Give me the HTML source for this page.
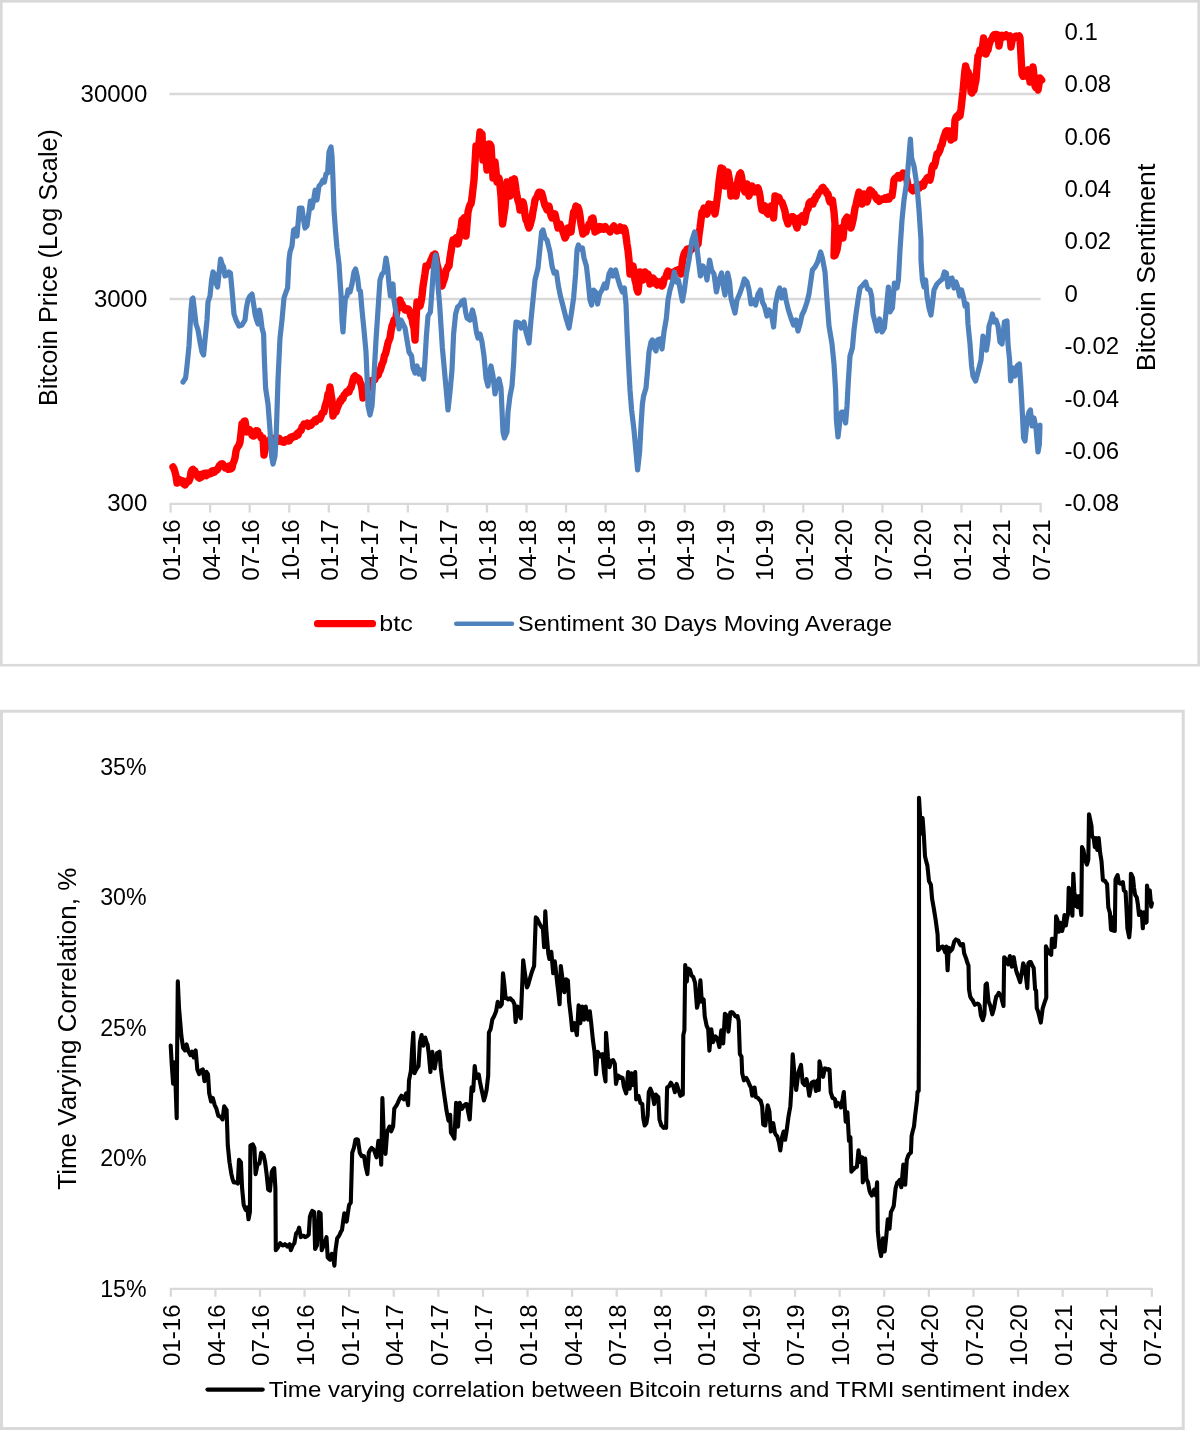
<!DOCTYPE html>
<html lang="en"><head><meta charset="utf-8"><title>Bitcoin price, sentiment and time varying correlation</title>
<style>
html,body{margin:0;padding:0;background:#fff;}
body{width:1200px;height:1430px;overflow:hidden;}
svg{display:block;will-change:transform;}
text{font-family:"Liberation Sans",sans-serif;fill:#000;}
.t{font-size:24px;}
.ax{font-size:26px;}
.lg{font-size:22.5px;}
</style></head><body>
<svg width="1200" height="1430" viewBox="0 0 1200 1430">
<rect x="0" y="0" width="1200" height="1430" fill="#fff"/>
<rect x="1.3" y="1.3" width="1197.4" height="663.9" fill="#fff" stroke="#d9d9d9" stroke-width="2.6"/>
<rect x="1.5" y="711.2" width="1181.7" height="717.3" fill="#fff" stroke="#d9d9d9" stroke-width="3"/>
<g stroke="#d9d9d9" stroke-width="2.3" fill="none">
<path d="M169.5 94H1040.6M169.5 299H1040.6M169.5 503.9H1041.7"/>
<path d="M170.60 503.9V512.5M210.15 503.9V512.5M249.69 503.9V512.5M289.24 503.9V512.5M328.78 503.9V512.5M368.33 503.9V512.5M407.87 503.9V512.5M447.42 503.9V512.5M486.96 503.9V512.5M526.51 503.9V512.5M566.05 503.9V512.5M605.60 503.9V512.5M645.15 503.9V512.5M684.69 503.9V512.5M724.24 503.9V512.5M763.78 503.9V512.5M803.33 503.9V512.5M842.87 503.9V512.5M882.42 503.9V512.5M921.96 503.9V512.5M961.51 503.9V512.5M1001.05 503.9V512.5M1040.60 503.9V512.5"/>
</g>
<text class="t" x="147.3" y="101.9" text-anchor="end">30000</text>
<text class="t" x="147.3" y="307.0" text-anchor="end">3000</text>
<text class="t" x="147.3" y="511.2" text-anchor="end">300</text>
<text class="t" x="1064.5" y="40.0">0.1</text>
<text class="t" x="1064.5" y="92.4">0.08</text>
<text class="t" x="1064.5" y="144.7">0.06</text>
<text class="t" x="1064.5" y="197.1">0.04</text>
<text class="t" x="1064.5" y="249.4">0.02</text>
<text class="t" x="1064.5" y="301.8">0</text>
<text class="t" x="1064.5" y="354.2">-0.02</text>
<text class="t" x="1064.5" y="406.5">-0.04</text>
<text class="t" x="1064.5" y="458.9">-0.06</text>
<text class="t" x="1064.5" y="511.2">-0.08</text>
<text class="t" transform="translate(180.00 519.3) rotate(-90)" text-anchor="end">01-16</text>
<text class="t" transform="translate(219.55 519.3) rotate(-90)" text-anchor="end">04-16</text>
<text class="t" transform="translate(259.09 519.3) rotate(-90)" text-anchor="end">07-16</text>
<text class="t" transform="translate(298.64 519.3) rotate(-90)" text-anchor="end">10-16</text>
<text class="t" transform="translate(338.18 519.3) rotate(-90)" text-anchor="end">01-17</text>
<text class="t" transform="translate(377.73 519.3) rotate(-90)" text-anchor="end">04-17</text>
<text class="t" transform="translate(417.27 519.3) rotate(-90)" text-anchor="end">07-17</text>
<text class="t" transform="translate(456.82 519.3) rotate(-90)" text-anchor="end">10-17</text>
<text class="t" transform="translate(496.36 519.3) rotate(-90)" text-anchor="end">01-18</text>
<text class="t" transform="translate(535.91 519.3) rotate(-90)" text-anchor="end">04-18</text>
<text class="t" transform="translate(575.45 519.3) rotate(-90)" text-anchor="end">07-18</text>
<text class="t" transform="translate(615.00 519.3) rotate(-90)" text-anchor="end">10-18</text>
<text class="t" transform="translate(654.55 519.3) rotate(-90)" text-anchor="end">01-19</text>
<text class="t" transform="translate(694.09 519.3) rotate(-90)" text-anchor="end">04-19</text>
<text class="t" transform="translate(733.64 519.3) rotate(-90)" text-anchor="end">07-19</text>
<text class="t" transform="translate(773.18 519.3) rotate(-90)" text-anchor="end">10-19</text>
<text class="t" transform="translate(812.73 519.3) rotate(-90)" text-anchor="end">01-20</text>
<text class="t" transform="translate(852.27 519.3) rotate(-90)" text-anchor="end">04-20</text>
<text class="t" transform="translate(891.82 519.3) rotate(-90)" text-anchor="end">07-20</text>
<text class="t" transform="translate(931.36 519.3) rotate(-90)" text-anchor="end">10-20</text>
<text class="t" transform="translate(970.91 519.3) rotate(-90)" text-anchor="end">01-21</text>
<text class="t" transform="translate(1010.45 519.3) rotate(-90)" text-anchor="end">04-21</text>
<text class="t" transform="translate(1050.00 519.3) rotate(-90)" text-anchor="end">07-21</text>
<text class="ax" transform="translate(57 267.5) rotate(-90)" text-anchor="middle" textLength="277" lengthAdjust="spacingAndGlyphs">Bitcoin Price (Log Scale)</text>
<text class="ax" transform="translate(1155.4 267.4) rotate(-90)" text-anchor="middle" textLength="207.5" lengthAdjust="spacingAndGlyphs">Bitcoin Sentiment</text>
<path d="M173.0 467.0L174.0 468.8L175.0 472.0L176.0 476.2L177.0 483.0L178.0 482.6L179.0 479.4L180.0 480.0L180.8 481.0L181.7 481.2L182.5 480.8L183.3 483.4L184.2 482.4L185.0 485.0L185.8 483.9L186.6 481.8L187.4 481.0L188.2 481.5L189.0 481.0L190.0 478.6L191.0 472.2L192.0 470.0L193.0 469.3L194.0 471.2L195.0 471.0L196.0 474.7L197.0 475.3L198.0 477.0L198.9 476.3L199.7 478.2L200.6 474.4L201.4 477.2L202.3 474.8L203.1 473.9L204.0 475.0L204.8 473.3L205.6 473.9L206.4 475.6L207.2 473.0L208.0 474.3L208.8 474.3L209.6 473.1L210.4 473.6L211.2 471.5L212.0 473.0L212.8 470.8L213.7 470.9L214.5 472.2L215.3 470.7L216.2 469.8L217.0 470.0L217.8 469.1L218.6 467.4L219.4 465.6L220.2 466.3L221.0 464.0L221.8 465.3L222.7 464.0L223.5 465.8L224.3 466.1L225.2 467.9L226.0 467.0L226.9 468.0L227.7 466.5L228.6 469.3L229.4 466.1L230.3 467.4L231.1 468.8L232.0 468.0L233.0 463.3L234.0 461.3L235.0 458.0L236.0 451.2L237.0 448.0L238.0 446.6L239.0 445.0L240.0 442.0L241.0 433.3L242.0 424.0L243.0 424.4L244.0 421.3L245.0 421.0L246.0 427.2L247.0 432.0L248.0 431.7L249.0 431.0L250.0 430.0L251.0 431.8L252.0 435.3L253.0 436.0L254.0 436.0L255.0 432.6L256.0 431.0L256.8 432.4L257.6 430.9L258.4 434.2L259.2 434.8L260.0 435.0L261.0 437.9L262.0 438.2L263.0 438.0L264.0 455.0L265.0 449.7L266.0 446.0L267.0 444.2L268.0 444.0L269.0 442.0L270.0 439.5L271.0 440.5L272.0 440.0L272.8 438.7L273.6 438.5L274.4 438.3L275.2 441.0L276.0 438.6L276.8 439.0L277.6 439.6L278.4 441.4L279.2 438.4L280.0 440.0L280.8 440.0L281.7 440.5L282.5 442.0L283.3 441.9L284.2 442.2L285.0 441.0L285.9 439.8L286.8 439.9L287.6 439.3L288.5 441.0L289.4 440.9L290.2 437.4L291.1 437.1L292.0 438.0L292.9 436.6L293.7 436.1L294.6 436.7L295.4 436.6L296.3 435.0L297.1 433.5L298.0 435.0L298.8 433.1L299.6 431.3L300.4 430.5L301.2 430.3L302.0 427.0L303.0 426.2L304.0 424.0L304.8 424.2L305.7 424.8L306.5 425.2L307.3 423.0L308.2 426.4L309.0 425.0L309.8 425.6L310.7 425.4L311.5 424.6L312.3 422.6L313.2 422.1L314.0 422.0L314.9 420.1L315.7 421.7L316.6 419.1L317.4 418.6L318.3 418.8L319.1 418.1L320.0 419.0L320.8 417.0L321.6 414.5L322.4 412.9L323.2 412.1L324.0 412.0L325.0 406.5L326.0 403.5L327.0 400.0L328.0 393.9L329.0 392.8L330.0 387.0L331.0 393.9L332.0 400.0L333.0 416.0L334.0 413.3L335.0 412.4L336.0 412.0L337.0 408.8L338.0 406.2L339.0 404.0L340.0 400.6L341.0 401.3L342.0 398.0L343.0 398.5L344.0 395.2L345.0 394.0L345.8 393.5L346.6 391.6L347.4 391.3L348.2 391.8L349.0 392.0L350.0 388.4L351.0 387.9L352.0 384.0L353.0 380.0L354.0 376.9L355.0 376.0L356.0 378.4L357.0 377.4L358.0 378.0L359.0 378.7L360.0 382.2L361.0 384.0L362.0 389.2L363.0 398.0L364.0 396.1L365.0 395.8L366.0 392.0L367.0 390.7L368.0 387.4L369.0 384.0L369.8 382.4L370.7 382.2L371.5 380.7L372.3 382.4L373.2 380.8L374.0 380.0L374.8 379.7L375.7 376.7L376.5 374.9L377.3 375.9L378.2 375.2L379.0 372.0L380.0 370.7L381.0 367.8L382.0 364.0L382.8 362.8L383.6 360.1L384.4 355.8L385.2 354.5L386.0 352.0L386.8 348.7L387.6 344.6L388.4 341.8L389.2 340.0L390.0 338.0L391.0 331.1L392.0 326.0L393.0 323.7L394.0 320.0L395.0 320.7L396.0 318.0L397.0 309.8L398.0 302.0L399.0 302.7L400.0 300.0L401.0 303.9L402.0 304.0L403.0 307.7L404.0 307.5L405.0 310.0L405.8 308.9L406.6 309.0L407.4 308.8L408.2 308.9L409.0 310.0L410.0 313.1L411.0 316.9L412.0 318.0L413.0 324.3L414.0 328.0L415.0 340.0L416.0 320.0L417.0 302.0L418.0 303.3L419.0 305.2L420.0 306.0L421.0 302.1L422.0 296.0L423.0 286.4L424.0 280.0L425.0 273.6L426.0 266.0L427.0 266.9L428.0 265.7L429.0 264.0L430.0 263.0L431.0 259.9L432.0 258.0L433.0 255.4L434.0 256.4L435.0 254.0L436.0 258.0L437.0 264.5L438.0 268.0L439.0 274.8L440.0 278.0L440.0 276.0L441.0 280.6L442.0 286.0L443.0 282.6L444.0 280.0L445.0 276.7L446.0 270.0L447.0 269.5L448.0 266.1L449.0 266.0L450.0 257.6L451.0 252.0L452.0 244.7L453.0 240.0L454.0 240.9L455.0 239.8L456.0 238.0L457.0 239.7L458.0 244.0L459.0 239.2L460.0 232.0L461.0 227.8L462.0 220.0L463.0 219.6L464.0 218.0L465.0 226.4L466.0 236.0L467.0 224.2L468.0 212.0L469.0 207.9L470.0 204.8L471.0 204.0L472.0 197.8L473.0 188.6L474.0 180.0L475.0 163.1L476.0 146.0L477.0 151.6L478.0 154.0L479.0 142.7L480.0 132.0L481.0 134.4L482.0 134.0L483.0 160.0L484.0 156.2L485.0 150.0L486.0 158.9L487.0 170.0L488.0 156.1L489.0 144.0L490.0 144.2L491.0 146.0L492.0 161.0L493.0 178.0L494.0 170.3L495.0 162.0L496.0 171.1L497.0 182.0L498.0 179.7L499.0 178.0L500.0 185.6L501.0 196.0L501.8 211.6L502.6 224.0L503.8 215.4L505.0 208.0L506.0 194.8L507.0 182.0L508.0 187.0L509.0 192.9L510.0 196.0L511.0 187.7L512.0 180.0L513.2 181.1L514.4 179.0L515.3 184.7L516.1 190.5L517.0 196.0L518.0 200.8L519.0 203.5L520.0 210.0L521.0 207.1L522.0 203.5L523.0 202.0L524.0 206.1L525.0 215.1L526.0 220.0L527.0 221.4L528.0 225.2L529.0 228.0L530.0 225.5L531.0 221.5L532.0 218.0L533.0 211.3L534.0 206.1L535.0 200.0L536.0 198.2L537.0 197.1L538.0 194.0L538.9 192.3L539.8 193.7L540.7 192.3L541.6 193.0L542.8 196.7L544.0 202.0L545.0 205.7L546.0 207.4L547.0 210.0L548.0 208.2L549.0 206.0L550.0 211.0L551.0 215.6L552.0 218.0L553.0 216.5L554.0 215.8L555.0 214.0L556.0 218.7L557.0 223.4L558.0 228.0L559.0 226.7L560.0 224.0L561.0 226.5L562.0 229.5L563.0 232.0L564.0 234.9L565.0 238.0L566.0 236.3L567.0 232.1L568.0 228.0L569.0 230.8L570.0 232.3L571.0 232.0L571.9 224.4L572.7 218.9L573.6 212.0L574.8 210.7L576.0 206.0L577.0 208.6L578.0 207.3L579.0 210.0L580.0 215.6L581.0 224.0L582.0 228.8L583.0 234.0L584.0 231.7L585.0 231.7L586.0 232.0L587.0 227.7L588.0 227.3L589.0 224.0L589.8 223.9L590.6 223.1L591.4 219.1L592.2 220.0L593.0 218.0L594.0 225.6L595.0 232.0L596.0 229.3L597.0 230.8L598.0 228.0L598.8 229.6L599.6 226.5L600.4 229.1L601.2 226.8L602.0 227.0L602.8 227.2L603.6 229.3L604.4 228.9L605.2 226.5L606.0 228.0L606.8 228.5L607.6 229.7L608.4 229.8L609.2 230.0L610.0 232.0L611.0 229.6L612.0 229.5L613.0 227.0L613.8 226.0L614.6 228.8L615.4 229.2L616.2 228.4L617.0 231.0L617.8 229.8L618.6 230.3L619.4 229.2L620.2 226.9L621.0 228.0L621.8 230.2L622.6 229.9L623.4 231.0L624.2 228.1L625.0 230.0L626.0 236.1L627.0 244.0L628.0 250.3L629.0 260.0L630.0 274.0L631.0 272.4L632.0 267.8L633.0 266.0L634.0 271.6L635.0 280.0L636.0 283.7L637.0 289.6L638.0 292.0L639.0 283.2L640.0 272.0L641.0 273.7L642.0 276.0L643.0 280.0L644.0 277.6L645.0 272.0L646.0 272.9L647.0 274.1L648.0 274.0L649.0 277.4L650.0 284.0L651.0 280.3L652.0 280.7L653.0 278.0L654.0 279.7L655.0 280.4L656.0 284.0L657.0 285.0L658.0 283.2L659.0 282.0L660.0 284.5L661.0 283.1L662.0 286.0L663.0 284.7L664.0 279.0L665.0 278.0L666.0 277.0L667.0 273.2L668.0 271.0L669.0 272.1L670.0 274.5L671.0 276.0L671.8 276.8L672.6 273.5L673.4 272.2L674.2 272.9L675.0 272.0L675.8 270.8L676.7 270.2L677.5 270.2L678.3 269.6L679.2 270.0L680.0 271.0L681.0 274.0L682.0 265.3L683.0 258.0L684.0 254.3L685.0 252.0L686.0 252.0L687.0 249.2L688.0 249.0L689.0 249.3L690.0 248.4L691.0 250.0L692.0 248.8L693.0 246.8L694.0 248.0L694.8 246.3L695.6 244.6L696.4 246.5L697.2 245.0L698.0 244.0L699.0 234.8L700.0 228.0L701.0 219.9L702.0 212.0L703.0 211.7L704.0 208.0L705.0 208.5L706.0 213.2L707.0 214.0L708.0 208.7L709.0 204.0L710.0 204.3L711.0 205.9L712.0 205.0L713.0 207.6L714.0 211.0L715.0 214.0L716.0 207.7L717.0 200.0L718.0 192.8L719.0 182.0L720.0 174.4L721.0 168.0L722.0 169.8L723.0 169.0L724.0 178.3L725.0 186.0L726.0 181.9L727.0 176.3L728.0 172.0L729.0 177.4L730.0 184.0L731.0 196.0L732.0 191.0L733.0 187.9L734.0 186.0L735.0 189.4L736.0 196.0L737.0 188.9L738.0 180.0L738.9 176.7L739.7 174.1L740.6 173.0L741.6 176.9L742.6 184.0L743.8 189.3L745.0 192.0L746.0 189.4L747.0 184.0L748.0 190.6L749.0 196.0L750.0 191.8L751.0 188.4L752.0 186.0L753.0 187.2L754.0 189.8L755.0 192.0L756.0 189.4L757.0 189.1L758.0 188.0L759.0 191.1L760.0 196.0L761.0 204.8L762.0 210.0L763.0 210.5L764.0 207.5L765.0 206.0L766.0 207.7L767.0 213.1L768.0 214.0L769.0 210.6L770.0 208.1L771.0 206.0L771.9 208.1L772.7 213.6L773.6 218.0L775.0 196.0L776.0 196.2L777.0 196.7L778.0 197.0L779.0 197.5L780.0 200.4L781.0 202.0L782.0 202.1L783.0 205.1L784.0 208.0L785.0 211.4L786.0 218.0L787.0 220.6L788.0 224.0L789.0 219.9L790.0 217.5L791.0 217.0L792.0 216.6L793.0 216.7L794.0 218.0L795.0 221.7L796.0 224.8L797.0 228.0L798.0 224.0L799.0 218.0L800.0 217.9L801.0 217.5L802.0 216.0L803.2 220.4L804.4 222.0L805.3 217.6L806.1 213.3L807.0 210.0L808.0 209.2L809.0 203.3L810.0 202.0L811.0 203.5L812.0 203.9L813.0 204.0L814.0 199.6L815.0 199.9L816.0 196.0L817.0 196.2L818.0 193.8L819.0 192.0L820.0 191.6L821.0 190.5L822.0 188.0L823.0 187.3L824.0 189.4L825.0 190.0L826.0 191.3L827.0 193.9L828.0 194.0L829.0 199.2L830.0 202.0L831.2 202.2L832.4 200.0L833.2 206.3L834.0 212.0L835.0 224.0L834.0 256.0L835.0 255.5L836.0 252.7L837.0 250.0L838.0 243.7L839.0 236.0L840.0 231.0L841.0 228.0L842.0 231.2L843.0 238.0L844.0 227.6L845.0 220.0L846.0 218.8L847.0 217.2L848.0 218.0L849.0 222.6L850.0 224.9L851.0 228.0L852.0 224.5L853.0 220.0L854.0 214.5L855.0 208.0L856.0 204.7L857.0 200.0L858.0 196.0L859.0 192.0L860.0 194.1L861.0 201.1L862.0 204.0L863.0 199.9L864.0 194.0L865.0 196.7L866.0 199.5L867.0 202.0L868.0 198.6L869.0 192.4L870.0 190.0L871.0 192.2L872.0 191.7L873.0 194.0L874.0 193.7L875.0 195.8L876.0 198.0L876.8 199.3L877.6 197.7L878.4 200.1L879.2 201.4L880.0 200.0L881.0 200.0L881.8 199.6L882.6 198.8L883.4 198.7L884.2 199.1L885.0 198.0L885.8 199.2L886.6 198.8L887.4 199.1L888.2 197.2L889.0 199.0L890.0 196.7L891.0 196.1L892.0 196.0L893.0 188.9L894.0 180.0L895.0 178.3L896.0 178.3L897.0 177.0L898.0 175.5L899.0 176.0L900.0 178.0L901.0 175.5L902.0 175.3L903.0 173.0L904.0 174.7L905.0 175.7L906.0 176.0L907.0 180.2L908.0 186.0L908.8 186.9L909.6 187.5L910.4 188.3L911.2 187.8L912.0 190.0L912.8 190.9L913.6 187.7L914.4 190.0L915.2 189.3L916.0 187.0L916.8 185.0L917.6 186.4L918.4 187.6L919.2 188.0L920.0 186.0L920.8 185.4L921.6 184.3L922.4 183.7L923.2 186.1L924.0 184.0L925.0 180.9L926.0 180.3L927.0 178.0L928.0 177.3L929.0 179.4L930.0 180.0L931.0 175.7L932.0 168.0L933.0 165.3L934.0 166.6L935.0 164.0L936.0 159.0L937.0 154.0L938.0 154.1L939.0 152.1L940.0 150.0L941.0 145.6L942.0 144.8L943.0 140.0L944.0 136.9L945.0 134.0L945.8 131.6L946.6 130.9L947.4 132.2L948.2 131.4L949.0 131.0L950.0 134.7L951.0 140.0L952.0 138.0L953.0 138.1L954.0 138.0L955.0 120.0L956.0 117.3L957.0 116.0L958.0 117.3L959.0 114.1L960.0 116.0L961.0 109.0L962.0 100.0L963.0 91.3L964.0 80.0L964.8 71.6L965.6 66.0L966.8 70.6L968.0 72.0L969.0 74.8L970.0 76.0L971.0 92.0L972.0 92.9L973.0 89.9L974.0 90.0L975.0 84.5L976.0 80.0L977.0 67.6L978.0 56.0L979.0 54.9L980.0 50.0L981.0 51.3L982.0 52.0L982.8 44.5L983.6 38.0L984.8 45.7L986.0 54.0L987.0 51.1L988.0 50.0L989.0 45.0L990.0 41.8L991.0 40.0L992.0 39.3L993.0 36.0L993.8 35.0L994.7 37.3L995.5 34.5L996.3 34.4L997.2 35.2L998.0 35.0L999.0 46.0L1000.0 39.8L1001.0 36.0L1001.8 35.4L1002.7 37.4L1003.5 37.0L1004.3 36.5L1005.2 35.7L1006.0 35.0L1006.8 36.8L1007.6 37.1L1008.4 35.8L1009.2 36.6L1010.0 36.0L1011.0 47.0L1012.0 40.8L1013.0 38.0L1014.0 38.2L1015.0 36.5L1016.0 36.0L1016.8 37.4L1017.6 37.3L1018.4 36.4L1019.2 35.9L1020.0 38.0L1021.0 56.0L1022.0 74.0L1023.0 76.3L1024.0 73.9L1025.0 76.0L1026.0 73.9L1027.0 71.4L1028.0 70.0L1029.0 75.2L1030.0 82.0L1031.0 77.9L1032.0 73.8L1033.0 67.0L1034.0 75.6L1035.0 86.0L1036.0 87.9L1037.0 87.9L1038.0 90.0L1039.0 84.2L1040.0 78.0L1041.6 80.0" fill="none" stroke="#ff0000" stroke-width="7.4" stroke-linejoin="round" stroke-linecap="round"/>
<path d="M183.0 382.0L185.6 378.0L187.0 366.0L189.0 346.0L191.0 310.0L192.0 299.0L193.0 298.0L194.4 310.0L196.0 324.0L198.0 330.0L200.0 342.0L202.0 352.0L203.6 355.0L205.0 340.0L207.0 320.0L208.0 302.0L210.0 296.0L211.6 280.0L213.0 272.0L214.4 274.0L216.0 283.0L217.6 287.0L219.0 274.0L220.6 259.0L222.0 264.0L223.6 267.0L225.0 276.0L227.0 275.0L229.0 272.0L230.4 273.0L232.0 290.0L234.0 314.0L236.0 320.0L239.0 326.0L242.0 325.0L245.0 320.0L246.4 308.0L248.0 300.0L250.0 296.0L252.0 294.0L253.6 304.0L255.0 314.0L256.6 320.0L258.0 324.0L259.4 310.0L260.6 316.0L262.0 328.0L263.6 334.0L264.4 360.0L265.6 388.0L268.0 404.0L270.0 430.0L271.6 456.0L273.0 464.0L275.0 456.0L276.4 430.0L278.0 380.0L280.0 338.0L282.0 320.0L284.0 298.0L286.0 292.0L287.6 288.0L289.0 260.0L290.0 252.0L292.0 246.0L293.6 230.0L295.0 229.0L297.0 236.0L298.4 220.0L299.4 208.0L302.0 208.0L303.6 220.0L305.0 228.0L307.0 226.0L309.0 212.0L310.4 201.0L312.0 208.0L313.6 200.0L315.2 190.0L317.0 200.0L319.0 186.0L321.0 184.0L323.0 180.0L324.4 182.0L326.0 174.0L327.6 173.0L329.0 152.0L331.0 147.0L332.0 156.0L333.0 180.0L334.0 210.0L335.6 232.0L337.0 248.0L339.0 264.0L340.0 280.0L341.0 294.0L342.0 320.0L343.0 332.0L344.0 316.0L345.4 298.0L347.0 296.0L348.0 290.0L350.0 292.0L352.0 284.0L354.0 272.0L355.6 269.0L357.6 278.0L359.0 290.0L360.4 291.0L362.0 310.0L364.0 330.0L366.0 352.0L367.0 376.0L368.0 406.0L370.0 415.0L372.0 406.0L374.0 376.0L376.0 340.0L378.0 310.0L380.0 280.0L382.0 274.0L384.0 272.0L386.0 258.0L387.6 268.0L389.0 284.0L390.4 296.0L392.0 286.0L393.0 284.0L394.0 300.0L395.6 310.0L398.0 320.0L399.0 329.0L401.0 320.0L402.0 322.0L405.0 328.0L407.0 340.0L409.0 352.0L411.6 356.0L413.0 368.0L415.0 373.0L417.0 366.0L419.0 374.0L421.0 370.0L423.6 379.0L425.0 360.0L426.4 336.0L428.0 316.0L430.4 312.0L432.0 290.0L433.6 266.0L435.6 255.0L437.0 264.0L438.0 286.0L439.6 304.0L441.0 326.0L442.4 348.0L444.4 370.0L446.4 392.0L448.0 410.0L450.0 392.0L452.0 370.0L453.6 334.0L455.6 314.0L457.6 307.0L460.0 305.0L462.0 301.0L464.0 300.0L465.6 312.0L467.0 318.0L470.0 320.0L472.4 310.0L474.4 318.0L476.4 332.0L478.0 338.0L480.0 334.0L482.0 342.0L484.0 356.0L486.0 378.0L488.0 386.0L489.6 372.0L491.0 366.0L493.0 376.0L495.0 394.0L497.0 384.0L499.0 379.0L501.0 388.0L502.0 410.0L503.0 432.0L504.4 438.0L507.0 432.0L508.0 412.0L510.0 396.0L512.0 386.0L513.6 364.0L515.0 334.0L516.0 322.0L519.0 323.0L521.0 328.0L524.0 322.0L526.0 332.0L529.0 343.0L531.0 320.0L533.0 300.0L535.0 280.0L538.0 268.0L540.0 248.0L541.6 232.0L543.0 230.0L545.0 238.0L547.0 240.0L550.0 252.0L552.0 266.0L554.0 273.0L556.4 272.0L558.4 286.0L560.4 296.0L563.0 306.0L566.0 318.0L569.0 328.0L571.6 312.0L573.6 298.0L575.6 274.0L577.0 250.0L578.4 245.0L580.0 249.0L582.4 248.0L584.0 258.0L586.4 266.0L588.0 280.0L590.0 300.0L591.6 305.0L593.6 290.0L595.6 292.0L597.6 304.0L599.6 294.0L602.0 290.0L604.4 284.0L606.4 288.0L609.0 274.0L611.0 270.0L613.0 276.0L615.6 270.0L617.6 278.0L620.0 286.0L622.4 292.0L624.4 288.0L626.0 304.0L627.0 330.0L628.4 360.0L630.0 390.0L631.6 410.0L634.0 430.0L636.0 452.0L637.6 470.0L639.6 452.0L641.0 426.0L642.4 404.0L643.6 396.0L646.0 388.0L647.6 370.0L649.0 352.0L651.0 342.0L652.4 340.0L654.4 348.0L656.0 351.0L657.6 340.0L660.0 339.0L662.0 349.0L664.0 332.0L666.4 318.0L668.0 300.0L670.0 290.0L672.4 282.0L674.4 272.0L676.4 282.0L678.4 280.0L681.0 294.0L682.4 301.0L684.4 290.0L686.4 274.0L689.0 260.0L692.0 240.0L694.6 232.0L697.0 248.0L698.4 260.0L700.4 276.0L703.0 266.0L705.0 270.0L707.0 280.0L709.6 260.0L711.6 270.0L714.0 274.0L716.4 292.0L719.0 280.0L721.6 273.0L723.6 288.0L725.0 295.0L727.6 273.0L729.6 282.0L731.0 298.0L733.0 306.0L735.0 313.0L737.0 300.0L740.0 293.0L742.4 286.0L744.4 279.0L747.0 282.0L749.0 290.0L751.0 304.0L753.6 300.0L755.6 305.0L758.0 294.0L760.4 290.0L762.4 302.0L764.4 306.0L767.0 316.0L769.0 310.0L771.0 312.0L773.6 327.0L775.6 304.0L778.0 292.0L779.6 288.0L781.6 298.0L784.4 290.0L786.0 300.0L788.4 310.0L791.0 318.0L793.6 325.0L796.0 320.0L798.0 331.0L800.0 324.0L802.0 315.0L804.4 310.0L807.0 302.0L809.0 294.0L811.0 280.0L812.4 270.0L815.0 267.0L817.6 262.0L820.6 252.0L822.4 258.0L825.0 272.0L827.0 300.0L829.0 326.0L832.0 344.0L834.0 364.0L835.6 390.0L836.4 420.0L838.0 437.0L840.0 420.0L841.6 412.0L843.6 412.0L845.6 423.0L847.0 406.0L848.4 380.0L850.0 356.0L852.4 348.0L854.0 330.0L856.0 314.0L858.0 300.0L860.0 288.0L863.0 285.0L865.6 282.0L867.6 289.0L870.0 290.0L871.6 296.0L873.0 314.0L875.0 322.0L877.0 331.0L879.6 319.0L882.0 332.0L884.4 328.0L886.4 308.0L888.4 287.0L890.0 312.0L892.4 308.0L894.4 283.0L897.0 288.0L898.4 280.0L900.0 250.0L902.0 220.0L904.0 200.0L907.0 180.0L909.0 156.0L910.4 139.0L911.6 158.0L914.0 166.0L917.0 186.0L919.0 210.0L921.0 240.0L921.0 260.0L922.4 280.0L924.0 287.0L925.6 280.0L927.0 296.0L929.0 308.0L931.0 315.0L932.4 304.0L934.0 290.0L937.0 284.0L940.0 281.0L942.4 279.0L944.4 272.0L946.4 273.0L948.0 287.0L950.0 279.0L952.0 278.0L954.0 288.0L956.0 282.0L958.0 288.0L959.6 296.0L961.6 290.0L963.6 298.0L965.0 306.0L967.0 304.0L968.0 324.0L970.0 344.0L971.6 366.0L973.0 376.0L975.6 381.0L978.0 372.0L981.0 360.0L983.0 336.0L985.0 348.0L986.4 350.0L988.0 340.0L989.0 326.0L991.0 320.0L992.4 314.0L994.0 322.0L996.0 320.0L998.0 326.0L1000.0 342.0L1002.0 344.0L1004.4 322.0L1007.0 321.0L1008.0 344.0L1009.6 360.0L1010.6 381.0L1013.0 368.0L1015.0 376.0L1017.0 366.0L1019.4 364.0L1021.0 388.0L1022.4 414.0L1023.6 438.0L1025.0 441.0L1027.0 420.0L1029.0 412.0L1030.4 410.0L1032.0 426.0L1034.0 418.0L1036.0 428.0L1038.0 452.0L1039.4 444.0L1040.0 425.0" fill="none" stroke="#4f81bd" stroke-width="5.2" stroke-linejoin="round" stroke-linecap="round"/>
<path d="M317.5 623.7H372.5" stroke="#ff0000" stroke-width="7.2" stroke-linecap="round" fill="none"/>
<text class="lg" x="379.3" y="630.6" textLength="33.5" lengthAdjust="spacingAndGlyphs">btc</text>
<path d="M456.2 623.7H512" stroke="#4f81bd" stroke-width="4.4" stroke-linecap="round" fill="none"/>
<text class="lg" x="518.0" y="630.6" textLength="374.2" lengthAdjust="spacingAndGlyphs">Sentiment 30 Days Moving Average</text>
<g stroke="#d9d9d9" stroke-width="2.3" fill="none">
<path d="M169.7 1288.8H1152.9"/>
<path d="M170.80 1288.8V1296.7M215.39 1288.8V1296.7M259.98 1288.8V1296.7M304.57 1288.8V1296.7M349.16 1288.8V1296.7M393.75 1288.8V1296.7M438.35 1288.8V1296.7M482.94 1288.8V1296.7M527.53 1288.8V1296.7M572.12 1288.8V1296.7M616.71 1288.8V1296.7M661.30 1288.8V1296.7M705.89 1288.8V1296.7M750.48 1288.8V1296.7M795.07 1288.8V1296.7M839.66 1288.8V1296.7M884.25 1288.8V1296.7M928.85 1288.8V1296.7M973.44 1288.8V1296.7M1018.03 1288.8V1296.7M1062.62 1288.8V1296.7M1107.21 1288.8V1296.7M1151.80 1288.8V1296.7"/>
</g>
<text class="t" x="146.6" y="774.9" text-anchor="end" textLength="46.4" lengthAdjust="spacingAndGlyphs">35%</text>
<text class="t" x="146.6" y="905.4" text-anchor="end" textLength="46.4" lengthAdjust="spacingAndGlyphs">30%</text>
<text class="t" x="146.6" y="1035.9" text-anchor="end" textLength="46.4" lengthAdjust="spacingAndGlyphs">25%</text>
<text class="t" x="146.6" y="1166.4" text-anchor="end" textLength="46.4" lengthAdjust="spacingAndGlyphs">20%</text>
<text class="t" x="146.6" y="1296.9" text-anchor="end" textLength="46.4" lengthAdjust="spacingAndGlyphs">15%</text>
<text class="t" transform="translate(180.20 1304.5) rotate(-90)" text-anchor="end">01-16</text>
<text class="t" transform="translate(224.79 1304.5) rotate(-90)" text-anchor="end">04-16</text>
<text class="t" transform="translate(269.38 1304.5) rotate(-90)" text-anchor="end">07-16</text>
<text class="t" transform="translate(313.97 1304.5) rotate(-90)" text-anchor="end">10-16</text>
<text class="t" transform="translate(358.56 1304.5) rotate(-90)" text-anchor="end">01-17</text>
<text class="t" transform="translate(403.15 1304.5) rotate(-90)" text-anchor="end">04-17</text>
<text class="t" transform="translate(447.75 1304.5) rotate(-90)" text-anchor="end">07-17</text>
<text class="t" transform="translate(492.34 1304.5) rotate(-90)" text-anchor="end">10-17</text>
<text class="t" transform="translate(536.93 1304.5) rotate(-90)" text-anchor="end">01-18</text>
<text class="t" transform="translate(581.52 1304.5) rotate(-90)" text-anchor="end">04-18</text>
<text class="t" transform="translate(626.11 1304.5) rotate(-90)" text-anchor="end">07-18</text>
<text class="t" transform="translate(670.70 1304.5) rotate(-90)" text-anchor="end">10-18</text>
<text class="t" transform="translate(715.29 1304.5) rotate(-90)" text-anchor="end">01-19</text>
<text class="t" transform="translate(759.88 1304.5) rotate(-90)" text-anchor="end">04-19</text>
<text class="t" transform="translate(804.47 1304.5) rotate(-90)" text-anchor="end">07-19</text>
<text class="t" transform="translate(849.06 1304.5) rotate(-90)" text-anchor="end">10-19</text>
<text class="t" transform="translate(893.65 1304.5) rotate(-90)" text-anchor="end">01-20</text>
<text class="t" transform="translate(938.25 1304.5) rotate(-90)" text-anchor="end">04-20</text>
<text class="t" transform="translate(982.84 1304.5) rotate(-90)" text-anchor="end">07-20</text>
<text class="t" transform="translate(1027.43 1304.5) rotate(-90)" text-anchor="end">10-20</text>
<text class="t" transform="translate(1072.02 1304.5) rotate(-90)" text-anchor="end">01-21</text>
<text class="t" transform="translate(1116.61 1304.5) rotate(-90)" text-anchor="end">04-21</text>
<text class="t" transform="translate(1161.20 1304.5) rotate(-90)" text-anchor="end">07-21</text>
<text class="ax" transform="translate(76 1028.7) rotate(-90)" text-anchor="middle" textLength="322" lengthAdjust="spacingAndGlyphs">Time Varying Correlation, %</text>
<path d="M170.7 1045.6L171.9 1067.0L173.1 1083.7L174.3 1062.3L175.5 1083.7L176.7 1118.2L177.1 1055.1L177.8 981.4L179.0 1007.6L180.2 1021.8L181.4 1036.1L183.1 1048.0L185.0 1050.4L186.6 1044.4L188.5 1051.6L190.4 1055.1L192.1 1051.6L193.8 1057.5L195.7 1050.4L197.3 1069.4L199.2 1074.2L200.9 1070.6L202.8 1069.4L204.5 1081.3L206.4 1071.8L208.0 1074.2L209.2 1093.2L211.1 1101.5L212.8 1098.0L214.7 1105.1L216.4 1108.7L218.3 1115.8L219.5 1116.3L220.7 1117.0L222.6 1119.4L224.2 1106.3L225.4 1108.2L226.6 1109.9L227.8 1145.5L229.5 1162.2L231.4 1174.1L232.5 1178.8L233.7 1182.4L234.9 1182.4L236.1 1182.4L237.8 1183.6L239.0 1159.8L240.9 1162.2L242.1 1188.3L243.7 1205.0L245.6 1209.8L247.3 1207.4L248.5 1219.3L249.9 1212.1L250.4 1145.5L251.6 1144.9L252.8 1144.3L254.4 1147.9L255.6 1174.1L257.5 1164.6L259.4 1163.4L261.1 1152.7L262.3 1154.0L263.5 1155.0L265.1 1162.2L266.6 1174.1L268.2 1189.5L269.9 1190.7L271.8 1171.7L273.0 1169.5L274.2 1168.1L275.4 1188.3L275.8 1250.2L277.7 1247.8L278.9 1245.4L280.1 1243.1L281.3 1244.4L282.5 1245.4L283.7 1245.2L284.9 1244.2L286.1 1244.9L287.3 1246.6L288.4 1245.2L289.6 1244.2L290.8 1250.2L292.7 1245.4L294.4 1243.1L296.1 1233.5L298.0 1231.2L299.1 1227.6L300.8 1237.1L302.7 1235.9L303.9 1235.9L305.1 1237.1L306.3 1236.7L307.5 1235.8L308.7 1234.7L309.9 1216.9L311.0 1213.3L312.2 1210.9L314.1 1212.1L315.1 1249.0L317.0 1245.4L318.9 1212.1L320.6 1213.3L321.7 1250.2L322.9 1247.3L324.1 1243.1L325.3 1240.7L326.5 1237.1L327.7 1257.3L328.9 1258.7L330.1 1259.7L331.7 1253.8L333.2 1257.3L334.4 1265.6L335.5 1250.2L337.2 1238.3L338.4 1236.7L339.6 1234.7L340.8 1231.9L342.0 1230.0L343.2 1221.0L344.3 1213.3L345.5 1217.5L346.7 1221.6L347.9 1212.7L349.1 1205.0L350.8 1202.6L352.2 1152.7L353.9 1147.9L355.5 1139.6L356.7 1139.2L357.9 1139.6L359.8 1152.7L361.7 1156.2L362.9 1155.9L364.1 1156.2L365.7 1166.9L367.4 1174.1L368.8 1152.7L370.3 1149.6L371.7 1147.9L372.9 1149.0L374.1 1150.3L375.3 1153.8L376.5 1157.4L378.4 1140.8L380.0 1143.2L381.2 1164.6L382.4 1098.0L383.6 1131.3L385.5 1153.9L387.2 1131.3L388.3 1129.4L389.5 1126.5L391.2 1131.3L393.1 1126.5L394.3 1108.7L395.5 1106.9L396.7 1105.1L397.8 1102.9L398.9 1100.3L400.0 1098.0L401.4 1095.7L402.6 1097.8L403.8 1099.3L405.0 1096.3L406.2 1093.4L408.1 1105.3L409.0 1080.3L410.9 1070.8L412.1 1049.4L413.3 1032.7L414.5 1073.2L415.7 1070.5L416.9 1068.4L418.5 1066.0L420.0 1042.2L421.6 1035.1L423.3 1045.8L425.2 1037.5L426.4 1041.7L427.6 1044.6L428.8 1054.1L430.4 1072.0L432.3 1051.7L433.5 1060.8L434.7 1068.4L435.9 1061.1L437.1 1052.9L438.3 1052.6L439.5 1051.7L440.7 1067.2L442.3 1080.3L444.2 1094.6L445.4 1102.6L446.6 1111.2L448.5 1120.7L450.2 1114.8L450.9 1132.6L452.5 1135.0L454.4 1138.6L456.1 1102.9L458.0 1126.7L459.7 1102.9L460.9 1105.5L462.1 1108.8L463.3 1106.8L464.4 1105.3L465.6 1104.1L466.8 1104.1L468.2 1112.2L469.7 1119.5L471.6 1087.4L473.2 1091.0L474.7 1066.0L476.3 1077.9L477.5 1076.0L478.7 1074.3L479.9 1081.4L481.1 1087.4L482.5 1093.8L483.9 1100.5L485.3 1095.8L486.6 1089.8L488.2 1075.5L488.9 1032.7L490.6 1029.1L492.3 1019.6L494.2 1016.1L496.1 1011.3L497.7 1001.8L498.9 1004.7L500.1 1006.6L501.8 1004.2L503.0 973.3L504.4 985.1L505.6 998.2L506.8 998.1L508.0 999.4L509.2 998.4L510.3 998.2L511.5 1000.0L512.7 1000.6L514.4 1004.2L515.6 1022.0L517.5 1006.6L519.1 1013.7L520.8 1018.4L522.2 985.1L523.2 960.2L524.6 970.9L525.8 979.2L527.0 987.5L528.2 984.6L529.4 980.4L530.8 975.5L532.2 970.9L534.1 966.1L534.6 951.8L535.8 917.4L537.0 918.5L538.2 920.9L539.4 923.5L540.6 925.7L541.7 927.3L542.9 928.1L544.1 947.1L545.3 911.4L546.5 932.8L548.4 954.2L549.4 959.0L551.3 951.8L553.2 973.3L554.8 961.4L556.0 971.7L557.2 982.8L558.4 992.9L559.6 1004.2L560.8 966.1L562.7 980.4L564.3 992.3L566.0 979.2L567.9 980.4L569.1 1001.8L570.8 1016.1L572.2 1030.3L573.4 1026.5L574.6 1023.2L575.8 1029.8L576.9 1035.1L578.6 1005.4L580.3 1023.2L582.2 1006.6L584.1 1019.6L585.7 1006.6L586.9 1013.5L588.1 1019.6L589.8 1011.3L591.2 1023.2L592.9 1039.9L594.5 1051.7L596.0 1074.3L597.6 1051.7L598.8 1053.6L600.0 1056.5L601.2 1055.0L602.4 1054.1L604.1 1073.2L605.5 1081.5L606.0 1032.7L607.9 1056.5L609.5 1067.2L611.2 1061.3L613.1 1060.1L614.8 1063.6L616.0 1083.9L617.9 1075.5L618.9 1076.2L620.0 1077.9L621.3 1077.3L622.6 1078.0L623.8 1086.3L625.0 1090.3L626.2 1093.4L628.1 1072.0L629.7 1088.7L631.4 1073.2L633.3 1085.1L635.2 1072.0L636.2 1099.4L637.3 1097.1L638.5 1095.8L640.4 1102.9L642.3 1104.1L643.3 1118.4L644.7 1125.5L646.4 1123.2L647.6 1116.0L648.8 1092.2L650.4 1088.7L652.3 1093.4L654.2 1104.1L655.9 1094.6L657.1 1095.9L658.3 1097.0L659.5 1119.6L661.4 1125.5L662.6 1126.6L663.7 1127.9L664.9 1127.5L666.1 1127.9L667.1 1087.5L669.0 1086.3L670.9 1082.7L672.1 1084.8L673.3 1086.3L674.9 1092.2L676.6 1083.9L678.5 1089.9L680.4 1095.8L681.6 1094.7L682.8 1094.6L683.3 1035.1L684.4 1030.4L685.2 965.0L686.8 981.6L688.0 968.5L689.9 969.7L691.6 975.7L693.2 976.9L695.1 982.8L697.0 1007.8L698.7 1000.7L700.4 980.4L701.8 1001.8L703.7 999.5L704.7 1016.1L706.6 1025.6L708.2 1029.2L709.4 1050.6L711.3 1029.2L713.0 1042.3L714.2 1039.5L715.4 1036.3L716.6 1037.6L717.7 1039.9L719.4 1047.0L721.3 1030.4L723.2 1043.5L724.9 1013.7L726.1 1014.8L727.3 1016.1L728.4 1031.6L730.3 1012.5L731.5 1012.1L732.7 1012.5L733.9 1014.0L735.1 1016.1L736.3 1016.8L737.5 1016.1L738.7 1020.9L739.9 1054.2L741.5 1056.6L742.2 1073.2L743.9 1080.3L745.1 1079.6L746.3 1078.0L747.5 1080.1L748.7 1082.7L749.9 1085.6L751.0 1087.5L752.2 1095.8L753.4 1091.2L754.6 1087.5L755.8 1097.0L757.0 1097.4L758.2 1098.2L759.4 1099.9L760.6 1100.6L762.2 1106.5L763.2 1124.3L764.2 1125.1L765.3 1125.5L766.5 1116.0L767.7 1105.3L769.4 1111.3L770.8 1131.5L772.0 1126.8L773.2 1123.2L774.8 1132.7L776.0 1135.1L777.2 1136.2L778.9 1142.2L780.3 1150.5L782.0 1137.4L783.6 1131.5L785.1 1139.8L786.7 1130.3L788.4 1117.2L790.3 1106.5L791.5 1087.5L792.7 1054.2L794.6 1075.6L796.2 1089.9L797.4 1080.5L798.6 1072.0L799.8 1068.1L801.0 1064.9L802.7 1082.7L804.6 1085.1L806.5 1079.1L808.1 1087.5L809.3 1095.8L810.5 1089.6L811.7 1082.7L812.9 1081.9L814.1 1081.5L816.0 1091.0L817.6 1080.3L818.8 1089.9L819.5 1061.3L821.2 1069.6L823.1 1076.8L824.8 1068.4L826.0 1068.8L827.2 1069.6L828.3 1069.0L829.5 1069.6L830.7 1092.2L832.6 1098.2L833.8 1098.2L835.0 1099.4L836.0 1106.5L837.9 1102.9L838.9 1103.6L840.0 1104.1L840.9 1107.5L842.6 1099.1L843.8 1092.0L845.7 1121.7L847.4 1112.2L849.0 1140.8L850.4 1137.2L851.4 1171.7L852.4 1170.1L853.5 1169.5L854.5 1168.1L855.7 1167.4L856.9 1166.9L858.5 1150.3L860.4 1162.2L862.3 1157.4L862.8 1182.4L864.0 1170.4L865.2 1158.6L866.4 1178.8L868.0 1182.4L869.5 1190.7L870.7 1193.7L871.9 1195.5L873.0 1192.5L874.2 1189.5L875.9 1195.5L877.1 1182.4L877.8 1231.2L879.5 1247.8L881.1 1256.1L883.0 1238.3L884.7 1251.4L886.1 1238.3L887.8 1219.3L889.5 1228.8L890.9 1212.1L892.3 1209.3L893.7 1206.2L895.6 1188.3L897.3 1182.4L898.5 1181.7L899.7 1180.0L901.3 1187.2L903.3 1164.6L905.2 1184.8L906.8 1159.8L908.5 1155.0L909.7 1153.4L910.9 1152.7L911.6 1136.0L912.8 1130.8L914.0 1126.5L915.1 1115.8L917.0 1100.3L917.5 1092.0L918.7 1090.8L919.0 994.1L919.0 797.8L920.2 818.1L921.4 833.5L922.6 818.1L923.8 834.7L925.0 856.1L926.2 861.4L927.4 865.6L929.0 881.1L930.9 884.7L932.1 898.9L933.8 908.4L935.7 920.3L937.6 934.6L938.1 950.1L939.2 949.3L940.4 947.7L941.6 946.7L942.8 946.5L944.0 949.0L945.2 952.4L946.4 946.5L947.6 970.3L948.8 947.7L950.4 951.3L952.3 948.9L954.2 941.7L955.9 939.4L957.1 940.3L958.3 940.6L959.5 943.6L960.7 945.3L961.8 944.3L963.0 944.1L964.2 953.6L966.1 958.4L967.3 962.6L968.5 965.5L969.0 989.3L970.2 996.5L971.4 998.8L972.5 1000.0L973.7 1002.5L974.9 1004.8L976.1 1004.1L977.3 1003.6L978.5 1004.2L979.7 1006.0L980.9 1015.5L982.8 1020.2L984.4 1014.3L985.6 984.6L986.8 983.4L988.5 1001.2L990.4 1006.0L992.3 1014.3L994.0 1008.3L995.1 1001.8L996.3 996.5L997.5 995.3L998.7 992.9L999.9 994.3L1001.1 996.5L1002.3 1001.5L1003.5 1006.0L1004.2 957.2L1005.4 958.6L1006.6 960.8L1008.2 964.3L1009.9 956.0L1011.8 966.7L1013.7 957.2L1014.9 964.2L1016.1 970.3L1017.3 974.0L1018.5 977.4L1020.1 982.2L1021.8 972.7L1023.2 963.2L1024.9 967.9L1026.1 977.7L1027.3 988.1L1028.4 963.2L1029.6 962.1L1030.8 962.0L1032.2 965.2L1033.7 967.9L1035.1 989.3L1036.1 990.5L1036.8 1008.3L1038.0 1011.3L1039.1 1015.5L1040.8 1022.6L1042.7 1008.3L1044.6 1002.4L1046.3 997.6L1045.9 946.4L1047.7 950.6L1049.1 953.4L1050.1 953.7L1051.2 954.8L1051.9 938.7L1053.3 939.4L1054.7 947.1L1055.7 933.8L1056.1 916.4L1057.5 919.9L1058.9 931.7L1060.3 922.7L1062.1 931.0L1063.1 926.9L1064.5 915.0L1065.9 925.5L1066.9 918.5L1068.0 914.3L1068.7 887.7L1069.7 890.5L1070.8 901.7L1072.4 915.7L1073.3 873.7L1074.3 891.9L1075.7 905.9L1076.6 896.1L1077.8 907.3L1079.4 896.1L1081.3 915.0L1082.0 847.1L1083.4 849.9L1084.8 858.3L1085.8 861.6L1086.9 864.6L1088.3 859.7L1089.0 814.3L1090.1 819.2L1091.5 826.2L1092.0 835.9L1093.8 838.7L1094.8 847.1L1095.9 838.0L1097.3 849.9L1098.7 838.0L1100.1 852.7L1101.5 861.1L1102.9 880.0L1104.0 880.8L1105.0 880.7L1106.1 882.6L1107.1 884.2L1108.3 907.3L1109.9 912.9L1111.0 929.7L1112.7 930.3L1113.4 917.1L1114.8 931.0L1115.5 879.3L1116.6 876.9L1117.6 875.1L1119.0 882.8L1120.1 883.7L1121.1 883.5L1122.8 882.1L1123.9 890.5L1125.6 891.9L1126.7 912.9L1127.4 928.3L1129.2 937.3L1130.2 926.9L1130.9 873.7L1132.0 875.4L1133.0 877.9L1134.0 887.7L1135.1 894.7L1136.8 897.5L1137.9 904.5L1139.0 915.0L1140.4 911.5L1141.8 912.9L1142.8 928.3L1143.8 912.2L1145.6 922.7L1146.6 922.0L1147.0 885.6L1148.4 894.7L1149.8 890.5L1151.2 906.6L1151.9 903.1" fill="none" stroke="#000" stroke-width="4.1" stroke-linejoin="round" stroke-linecap="round"/>
<path d="M207.5 1389.6H262.7" stroke="#000" stroke-width="4.2" stroke-linecap="round" fill="none"/>
<text class="lg" x="268.7" y="1396.9" textLength="801" lengthAdjust="spacingAndGlyphs">Time varying correlation between Bitcoin returns and TRMI sentiment index</text>
</svg>
</body></html>
